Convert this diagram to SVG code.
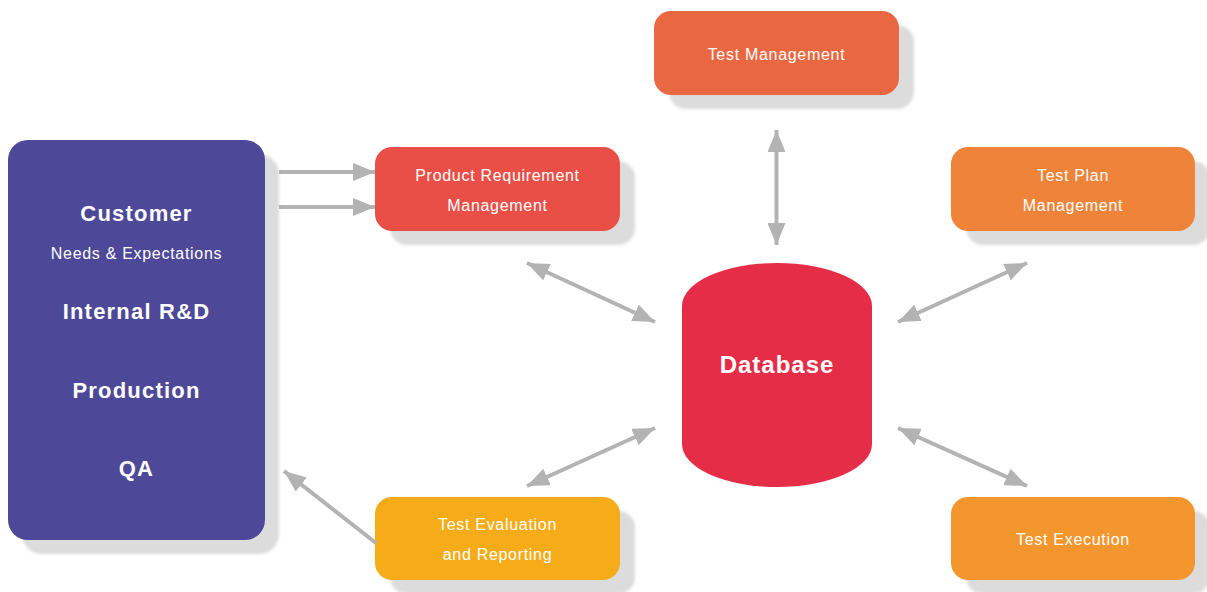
<svg xmlns="http://www.w3.org/2000/svg" width="1207" height="592" viewBox="0 0 1207 592">
<style>
.shadow{fill:#dcdcdc;filter:url(#blur)}
.lbl{font-family:"Liberation Sans",Arial,sans-serif;font-size:16px;fill:#fff;text-anchor:middle;letter-spacing:0.7px}
.big{font-family:"Liberation Sans",Arial,sans-serif;font-size:22px;font-weight:bold;fill:#fff;text-anchor:middle;letter-spacing:1.2px}
.conn{stroke:#b3b3b3;stroke-width:4;fill:none}
</style>
<defs>
<filter id="blur" x="-10%" y="-10%" width="120%" height="120%"><feGaussianBlur stdDeviation="1.5"/></filter>
<marker id="ah" markerUnits="userSpaceOnUse" markerWidth="22" markerHeight="18" refX="22" refY="9" orient="auto-start-reverse" viewBox="0 0 22 18">
<path d="M0,0 L22,9 L0,18 Z" fill="#b3b3b3"/>
</marker>
</defs>
<rect width="1207" height="592" fill="#fff"/>

<g id="sources">
<rect class="shadow" x="22" y="154" width="257" height="400" rx="20"/>
<rect x="8" y="140" width="257" height="400" rx="20" fill="#4e4898"/>
<text class="big" x="136.5" y="221">Customer</text>
<text class="lbl" x="136.5" y="259">Needs &amp; Expectations</text>
<text class="big" x="136.5" y="319">Internal R&amp;D</text>
<text class="big" x="136.5" y="398">Production</text>
<text class="big" x="136.5" y="476">QA</text>
</g>

<g id="prm">
<rect class="shadow" x="390" y="161" width="245" height="84" rx="17"/>
<rect x="375" y="147" width="245" height="84" rx="17" fill="#e94f47"/>
<text class="lbl" x="497.5" y="181">Product Requirement</text>
<text class="lbl" x="497.5" y="211">Management</text>
</g>

<g id="tm">
<rect class="shadow" x="669" y="25" width="245" height="84" rx="17"/>
<rect x="654" y="11" width="245" height="84" rx="17" fill="#ea6841"/>
<text class="lbl" x="776.5" y="60">Test Management</text>
</g>

<g id="tpm">
<rect class="shadow" x="966" y="161" width="244" height="84" rx="17"/>
<rect x="951" y="147" width="244" height="84" rx="17" fill="#ef833a"/>
<text class="lbl" x="1073" y="181">Test Plan</text>
<text class="lbl" x="1073" y="211">Management</text>
</g>

<g id="ter">
<rect class="shadow" x="390" y="511" width="245" height="83" rx="17"/>
<rect x="375" y="497" width="245" height="83" rx="17" fill="#f6ab18"/>
<text class="lbl" x="497.5" y="530">Test Evaluation</text>
<text class="lbl" x="497.5" y="560">and Reporting</text>
</g>

<g id="te">
<rect class="shadow" x="966" y="511" width="244" height="83" rx="17"/>
<rect x="951" y="497" width="244" height="83" rx="17" fill="#f4962e"/>
<text class="lbl" x="1073" y="545">Test Execution</text>
</g>

<g id="database">
<path d="M682,306 A95,43 0 0 1 872,306 V444 A95,43 0 0 1 682,444 Z" fill="#e52d48"/>
<text class="big" x="777" y="373" style="font-size:24px;letter-spacing:1px">Database</text>
</g>

<g id="connectors">
<line class="conn" x1="279" y1="172" x2="375" y2="172" marker-end="url(#ah)"/>
<line class="conn" x1="279" y1="207" x2="375" y2="207" marker-end="url(#ah)"/>
<line class="conn" x1="776.5" y1="130" x2="776.5" y2="245" marker-start="url(#ah)" marker-end="url(#ah)"/>
<line class="conn" x1="527" y1="263" x2="655" y2="322" marker-start="url(#ah)" marker-end="url(#ah)"/>
<line class="conn" x1="1027" y1="263" x2="898" y2="322" marker-start="url(#ah)" marker-end="url(#ah)"/>
<line class="conn" x1="655" y1="428" x2="527" y2="486" marker-start="url(#ah)" marker-end="url(#ah)"/>
<line class="conn" x1="898" y1="428" x2="1027" y2="486" marker-start="url(#ah)" marker-end="url(#ah)"/>
<line class="conn" x1="376" y1="543" x2="284" y2="471" marker-end="url(#ah)"/>
</g>
</svg>
